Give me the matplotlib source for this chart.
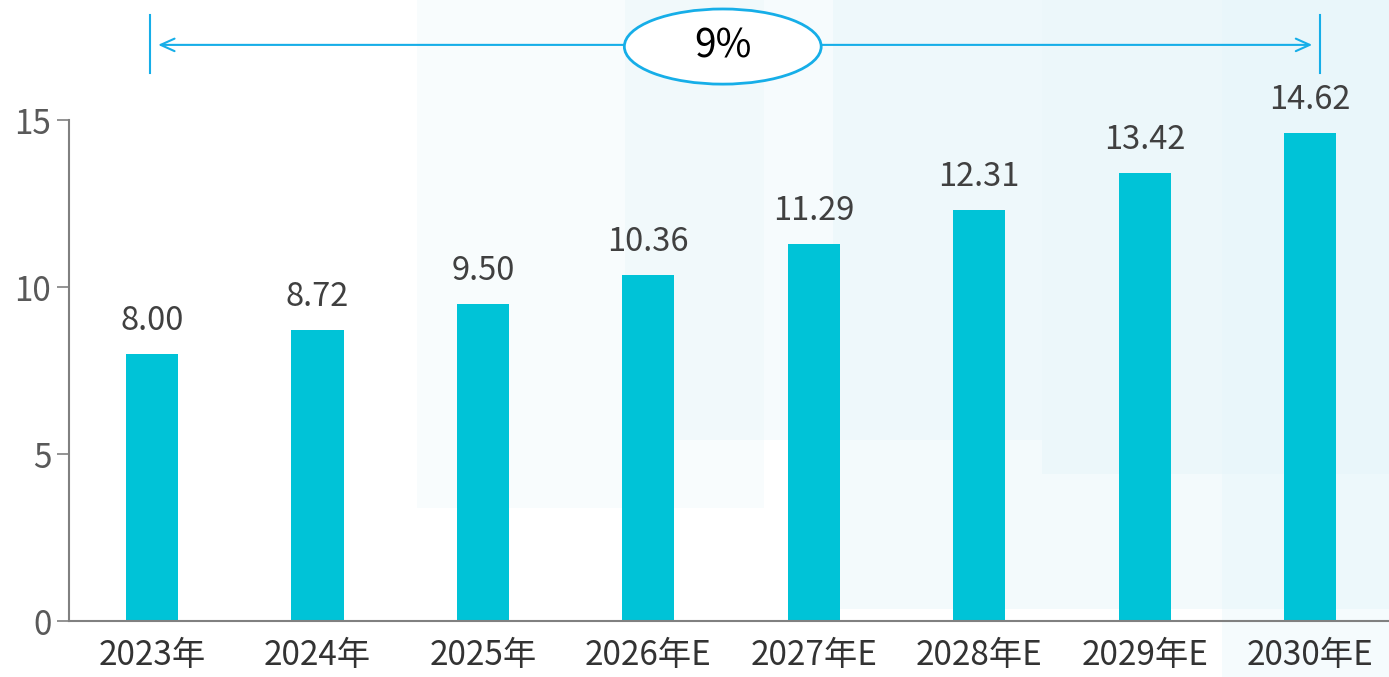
import matplotlib.pyplot as plt
from matplotlib.patches import Ellipse, Rectangle

plt.rcParams['font.family'] = ['Noto Sans CJK SC', 'DejaVu Sans']

years = ['2023年', '2024年', '2025年', '2026年E', '2027年E', '2028年E', '2029年E', '2030年E']
values = [8.00, 8.72, 9.50, 10.36, 11.29, 12.31, 13.42, 14.62]
cagr = '9%'

bar_color = '#00C3D7'
line_color = '#16AEE8'

fig = plt.figure(figsize=(13.89, 6.77), dpi=100)

# faint light-blue background blocks, drawn behind the chart
bg = fig.add_axes([0, 0, 1, 1], zorder=-1)
bg.set_axis_off()
bg.set_xlim(0, 1)
bg.set_ylim(0, 1)
for x0, y0, w, h, a in [(0.30, 0.25, 0.25, 0.75, 0.25), (0.45, 0.35, 0.30, 0.65, 0.35),
                        (0.60, 0.10, 0.40, 0.90, 0.45), (0.75, 0.30, 0.25, 0.70, 0.5),
                        (0.88, 0.0, 0.12, 1.0, 0.4)]:
    bg.add_patch(Rectangle((x0, y0), w, h, color='#E6F6FA', alpha=a, lw=0))

ax = fig.add_axes([0.0499, 0.0827, 0.9528, 0.74])
ax.patch.set_alpha(0)

x = range(len(years))
bars = ax.bar(x, values, width=0.315, color=bar_color, zorder=2)
for xi, v in zip(x, values):
    ax.annotate(f'{v:.2f}', (xi, v), xytext=(0, 12), textcoords='offset points',
                ha='center', va='bottom', fontsize=23.5, color='#404040')

ax.set_xlim(-0.5, 7.5)
ax.set_ylim(0, 15)
ax.set_yticks([0, 5, 10, 15])
ax.set_xticks(list(x))
ax.set_xticklabels(years)
ax.tick_params(axis='y', length=9, width=1.2, color='#808080', labelsize=24,
               labelcolor='#595959', pad=4)
ax.tick_params(axis='x', length=0, labelsize=24, labelcolor='#333333', pad=12)
for s in ['top', 'right']:
    ax.spines[s].set_visible(False)
for s in ['left', 'bottom']:
    ax.spines[s].set_color('#808080')
    ax.spines[s].set_linewidth(1.5)

# growth annotation on top
ya = 17.25
ax.plot([-0.01, -0.01], [16.4, 18.15], color=line_color, lw=1.5, clip_on=False)
ax.plot([7.06, 7.06], [16.4, 18.15], color=line_color, lw=1.5, clip_on=False)
ax.annotate('', xy=(0.02, ya), xytext=(3.45, ya),
            arrowprops=dict(arrowstyle='->,head_length=1.0,head_width=0.45', color=line_color, lw=1.5),
            annotation_clip=False)
ax.annotate('', xy=(7.03, ya), xytext=(3.45, ya),
            arrowprops=dict(arrowstyle='->,head_length=1.0,head_width=0.45', color=line_color, lw=1.5),
            annotation_clip=False)
ax.add_patch(Ellipse((3.45, 17.2), 1.19, 2.25, facecolor='white', edgecolor=line_color,
                     lw=2, clip_on=False, zorder=5))
ax.text(3.45, 17.2, cagr, ha='center', va='center', fontsize=28, color='black', zorder=6)

fig.savefig('out.png', dpi=100)
